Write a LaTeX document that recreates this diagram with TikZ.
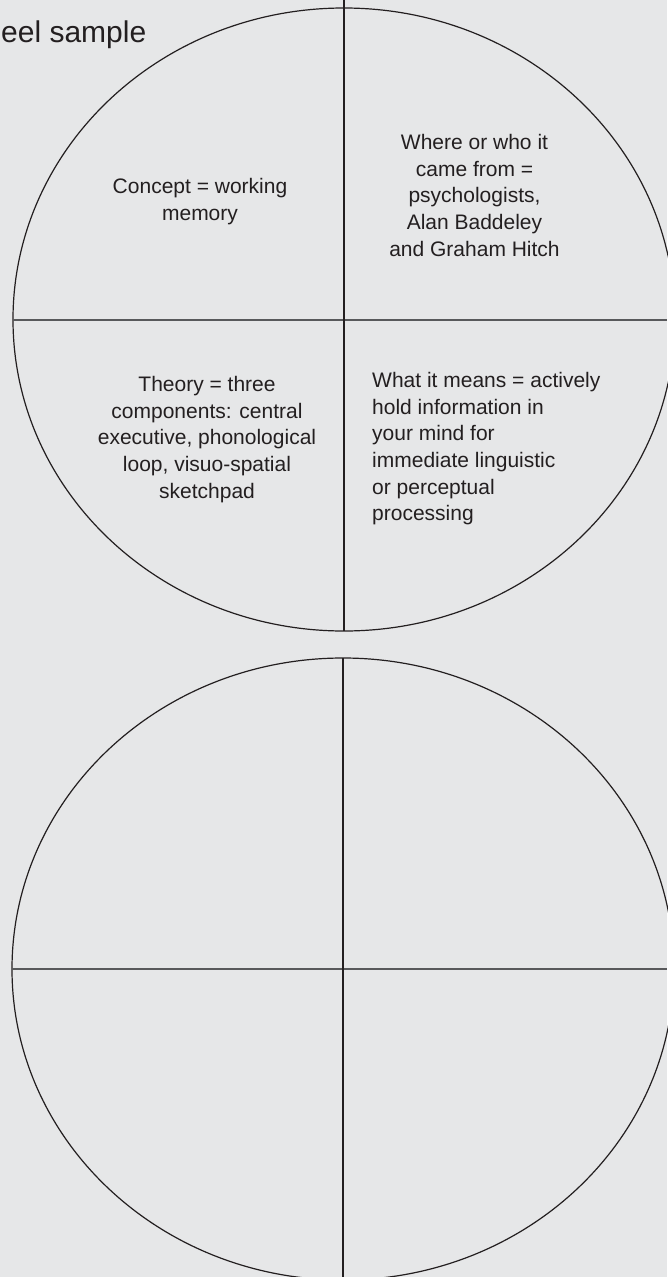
\documentclass[tikz,border=0pt]{standalone}
\usepackage{fontspec}
\setmainfont{Liberation Sans}
\definecolor{bg}{HTML}{E6E7E8}
\definecolor{ink}{HTML}{231F20}
\definecolor{rule}{HTML}{58595B}
\begin{document}
\begin{tikzpicture}[x=1pt,y=-1pt,
  outline/.style={draw=ink,line width=1.2pt},
  divider/.style={draw=rule,line width=1.6pt},
  spoke/.style={draw=ink,line width=1.1pt},
  label/.style={text=ink,inner sep=0pt,font=\fontsize{21}{26.7}\selectfont},
  heading/.style={text=ink,inner sep=0pt,font=\fontsize{30}{36}\selectfont}]
\fill[bg] (0,0) rectangle (667,1277);
\useasboundingbox (0,0) rectangle (667,1277);
% coordinates
\coordinate (c1) at (344,319.5);
\coordinate (t1) at (344,0);
\coordinate (b1) at (344,631);
\coordinate (l1) at (13,320);
\coordinate (r1) at (667,320);
\coordinate (c2) at (343,969);
\coordinate (t2) at (343,658);
\coordinate (b2) at (343,1277);
\coordinate (l2) at (12,969);
\coordinate (r2) at (667,969);
% wheel 1
\draw[outline] (c1) ellipse [x radius=331, y radius=311.5];
\draw[divider] (l1) -- (r1);
\draw[spoke] (t1) -- (b1);
% wheel 2
\draw[outline] (c2) ellipse [x radius=331, y radius=311];
\draw[divider] (l2) -- (r2);
\draw[spoke] (t2) -- (b2);
% texts
\node[heading,anchor=base east] (title) at (146.5,42) {eel sample};
\node[label,align=center,anchor=north] (concept) at (200,178) {Concept = working\\memory};
\node[label,align=center,anchor=north] (where) at (474.5,134) {Where or who it\\came from =\\psychologists,\\Alan Baddeley\\and Graham Hitch};
\node[label,align=center,anchor=north] (theory) at (207,376) {Theory = three\\components: central\\executive, phonological\\loop, visuo-spatial\\sketchpad};
\node[label,align=left,anchor=north west] (means) at (372,372) {What it means = actively\\hold information in\\your mind for\\immediate linguistic\\or perceptual\\processing};
\end{tikzpicture}
\end{document}
